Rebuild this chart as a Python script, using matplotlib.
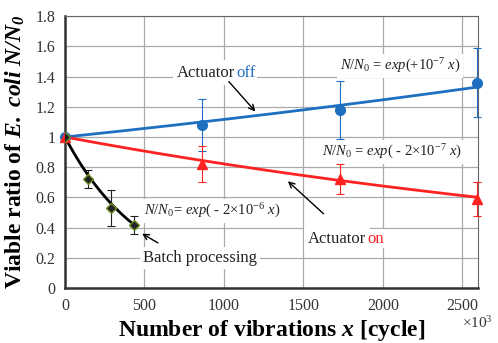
import numpy as np
import matplotlib.pyplot as plt

plt.rcParams['font.family'] = 'Liberation Serif'
plt.rcParams['mathtext.fontset'] = 'custom'
plt.rcParams['mathtext.rm'] = 'Liberation Serif'
plt.rcParams['mathtext.it'] = 'Liberation Serif:italic'
plt.rcParams['mathtext.bf'] = 'Liberation Serif:bold'
plt.rcParams['mathtext.bfit'] = 'Liberation Serif:italic:bold'

# data (x in 10^3 cycles)
x_off = [0, 864, 1728, 2592]
y_off = [1.0, 1.08, 1.18, 1.36]
e_off = [0.0, 0.17, 0.19, 0.23]

x_on = [0, 864, 1728, 2592]
y_on = [1.0, 0.82, 0.72, 0.59]
e_on = [0.0, 0.12, 0.10, 0.11]

x_batch = [0, 144, 288, 432]
y_batch = [1.0, 0.72, 0.53, 0.42]
e_batch = [0.0, 0.06, 0.12, 0.06]

# fitted rate constants (per cycle)
k_off = 1.1e-7
k_on = -1.96e-7
k_batch = -2e-6

blue = '#1f6fc0'
red = '#ff2222'

fig = plt.figure(figsize=(4.98, 3.43), dpi=100)
ax = fig.add_axes([0.1305, 0.16, 0.8295, 0.793])

xs = np.linspace(0, 2600, 200)
xb = np.linspace(0, 432, 100)
ax.plot(xs, np.exp(k_off * xs * 1e3), color=blue, lw=2, zorder=3)
ax.plot(xs, np.exp(k_on * xs * 1e3), color=red, lw=2, zorder=3)
ax.plot(xb, np.exp(k_batch * xb * 1e3), color='black', lw=2, zorder=4)

ax.errorbar(x_off, y_off, yerr=e_off, fmt='o', color=blue, ms=7, elinewidth=0.8,
            capsize=3, capthick=0.8, zorder=5, clip_on=False)
ax.errorbar(x_on, y_on, yerr=e_on, fmt='^', color=red, ms=7, elinewidth=0.8,
            capsize=3, capthick=0.8, zorder=5, clip_on=False)
ax.errorbar(x_batch, y_batch, yerr=e_batch, fmt='D', color='#222222', mfc='#222222',
            mec='#6b8e23', ms=5, elinewidth=0.8, capsize=3, capthick=0.8, zorder=6)

ax.set_xlim(0, 2600)
ax.set_ylim(0, 1.8)
ax.set_xticks([0, 500, 1000, 1500, 2000, 2500])
ax.set_yticks(np.arange(0, 1.81, 0.2))
ax.set_yticklabels(['0', '0.2', '0.4', '0.6', '0.8', '1', '1.2', '1.4', '1.6', '1.8'])
ax.tick_params(labelsize=11.5, length=0, pad=7, colors='#333333')
ax.grid(True, color='#aaaaaa', lw=0.9)
ax.set_axisbelow(True)
for s in ['top', 'right']:
    ax.spines[s].set_color('#666666')
    ax.spines[s].set_linewidth(0.8)
for s in ['left', 'bottom']:
    ax.spines[s].set_color('#333333')
    ax.spines[s].set_linewidth(1.8)

ax.set_xlabel(r'Number of vibrations $\mathbfit{x}$ [cycle]', fontsize=17,
              fontweight='bold', labelpad=3)
ax.set_ylabel(r'Viable ratio of $\mathbfit{E.}$ $\mathbfit{coli}$ $\mathbfit{N/N_0}$',
              fontsize=17, fontweight='bold', labelpad=6)
ax.text(1.035, -0.13, r'$\times10^3$', transform=ax.transAxes, fontsize=11,
        ha='right', va='center', color='#333333')

box = dict(facecolor='white', edgecolor='none', pad=2)
tc = '#222222'


def two_tone(x, y, word, color):
    t = ax.text(x, y, 'Actuator', fontsize=12, color=tc, ha='left', va='baseline',
                bbox=dict(facecolor='white', edgecolor='none', pad=3))
    ax.annotate(word, xy=(1, 0), xycoords=t, xytext=(0.5, 0), textcoords='offset points',
                fontsize=12, color=color, ha='left', va='bottom',
                bbox=dict(facecolor='white', edgecolor='none', pad=1))


# Actuator off
two_tone(705, 1.40, 'off', blue)
ax.annotate('', xy=(1210, 1.155), xytext=(1020, 1.38),
            arrowprops=dict(arrowstyle='->', color='black', lw=1))
ax.text(1730, 1.47, r'$N/N_0$ = $exp$(+10$^{-7}$ $x$)', fontsize=10.5, color=tc,
        ha='left', va='center', bbox=box)
ax.text(1620, 0.90, r'$N/N_0$ = $exp$( - 2$\times$10$^{-7}$ $x$)', fontsize=10.5,
        color=tc, ha='left', va='center', bbox=box)
# Actuator on
two_tone(1530, 0.30, 'on', red)
ax.annotate('', xy=(1390, 0.72), xytext=(1640, 0.48),
            arrowprops=dict(arrowstyle='->', color='black', lw=1))
# batch
ax.text(500, 0.51, r'$N/N_0$= $exp$( - 2$\times$10$^{-6}$ $x$)', fontsize=10.5,
        color=tc, ha='left', va='center', bbox=box)
ax.text(490, 0.20, 'Batch processing', fontsize=12, color=tc, ha='left', va='center',
        bbox=box)
ax.annotate('', xy=(470, 0.37), xytext=(600, 0.29),
            arrowprops=dict(arrowstyle='->', color='black', lw=1))

fig.savefig('out.png', dpi=100)
